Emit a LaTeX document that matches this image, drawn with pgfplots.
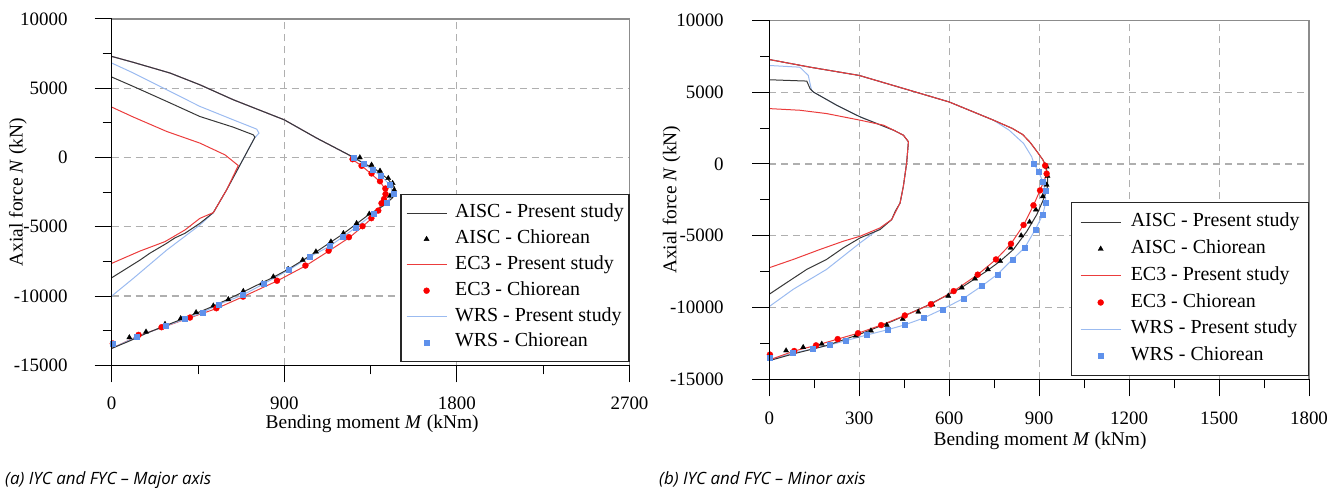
\documentclass[border=0pt]{standalone}
\usepackage{pgfplots}
\pgfplotsset{compat=1.18}
\usepackage{fontspec}
\setmainfont{Liberation Serif}
\newfontfamily\capfont{Open Sans}
\definecolor{cblack}{RGB}{55,55,55}
\definecolor{cred}{RGB}{235,60,60}
\definecolor{cblue}{RGB}{155,187,240}
\definecolor{dred}{RGB}{250,0,0}
\definecolor{dblue}{RGB}{95,145,235}
\definecolor{gridc}{RGB}{175,175,175}
\definecolor{framec}{RGB}{140,140,140}
\newcommand{\labfont}{\rmfamily\upshape\fontsize{19.5}{20}\selectfont}
\pgfplotsset{
 aiscline/.style={cblack, line width=1bp, no markers},
 ec3line/.style={cred, line width=1bp, no markers},
 wrsline/.style={cblue, line width=1bp, no markers},
 aiscmark/.style={only marks, mark=triangle*, mark size=3bp, mark options={black, fill=black, line width=0.3bp}},
 ec3mark/.style={only marks, mark=*, mark size=3bp, mark options={dred, fill=dred, line width=0.3bp}},
 wrsmark/.style={only marks, mark=square*, mark size=2.5bp, mark options={dblue, fill=dblue, line width=0.3bp}},
 nfig/.style={
  scale only axis,
  axis line style={draw=none},
  scaled x ticks=false, scaled y ticks=false,
  tick align=outside,
  xtick pos=bottom, ytick pos=left,
  major tick length=17bp, minor tick length=9bp,
  tick style={black, line width=1bp},
  grid=major,
  major grid style={gridc, line width=1.1bp, dash pattern=on 7bp off 5bp},
  ymin=-15000, ymax=10000,
  ytick={-15000,-10000,-5000,0,5000,10000},
  yticklabels={-15000,-10000,-5000,0,5000,10000},
  minor ytick={-12500,-7500,-2500,2500,7500},
  tick label style={font=\rmfamily\fontsize{19}{19}\selectfont},
  xticklabel style={inner sep=0pt, anchor=center},
  yticklabel style={inner sep=0pt, anchor=east},
  ylabel={Axial force \textit{N} (kN)},
  xlabel={Bending moment \textit{M} (kNm)},
  every axis y label/.style={at={(axis description cs:-0.181,0.5)}, rotate=90, anchor=center, font=\labfont},
  legend cell align=left,
  legend image code/.code={\draw[mark repeat=2,mark phase=2,##1] plot coordinates {(0bp,0bp) (20bp,0bp) (40bp,0bp)};},
  after end axis/.code={
    \draw[framec, line width=1.3bp] (rel axis cs:0,1) -- (rel axis cs:1,1) -- (rel axis cs:1,0);
    \draw[black, line width=1.2bp] (rel axis cs:0,1) -- (rel axis cs:0,0) -- (rel axis cs:1,0);
  },
 }
}
\begin{document}
\begin{tikzpicture}
\useasboundingbox (0,0) rectangle (1343bp,489bp);
% ================= (a) Major axis =================
\begin{axis}[nfig,
  at={(111.7bp,123.7bp)}, anchor=south west,
  width=517.8bp, height=346.3bp,
  xmin=0, xmax=2700,
  xtick={0,900,1800,2700}, xticklabels={0,900,1800,2700},
  minor xtick={450,1350,2250},
  every x tick label/.append style={yshift=-20.9bp},
  yticklabel style={xshift=-27bp},
  every axis x label/.style={at={(axis description cs:0.503,-0.1695)}, anchor=center, font=\labfont},
  legend style={at={(1,0.4955)}, anchor=north east, draw=black!85, line width=1.2bp, fill=white,
    font=\rmfamily\fontsize{20}{20}\selectfont, inner xsep=5bp, inner ysep=9.5bp, row sep=6.8bp,
    nodes={inner sep=0pt, text height=14bp, text depth=5bp},
    /tikz/every odd column/.append style={column sep=8bp}},
]
\addlegendimage{aiscline}\addlegendentry{AISC - Present study}
\addlegendimage{aiscmark}\addlegendentry{AISC - Chiorean}
\addlegendimage{ec3line}\addlegendentry{EC3 - Present study}
\addlegendimage{ec3mark}\addlegendentry{EC3 - Chiorean}
\addlegendimage{wrsline}\addlegendentry{WRS - Present study}
\addlegendimage{wrsmark}\addlegendentry{WRS - Chiorean}
% outer curves
\addplot[ec3line, forget plot] coordinates {(0,7300) (113,6870) (304,6100) (460,5250) (634,4170) (900,2720) (1069,1400) (1242,150) (1251,-100) (1303,-600) (1355,-1200) (1399,-1750) (1425,-2250) (1432,-2600) (1425,-2950) (1407,-3300) (1390,-3850) (1355,-4400) (1307,-5000) (1239,-5780) (1131,-6760) (1011,-7820) (864,-8900) (683,-10060) (547,-10900) (405,-11580) (261,-12280) (144,-12840) (0,-13780)};
\addplot[wrsline, forget plot] coordinates {(0,7300) (113,6870) (304,6100) (460,5250) (634,4170) (900,2720) (1069,1400) (1242,150) (1260,0) (1315,-460) (1360,-890) (1404,-1330) (1451,-1980) (1468,-2630) (1433,-3250) (1364,-4070) (1274,-5040) (1138,-6390) (1034,-7160) (924,-8120) (791,-9130) (683,-9930) (556,-10610) (474,-11190) (382,-11670) (283,-12150) (130,-12950) (0,-13780)};
\addplot[aiscline, forget plot] coordinates {(0,7300) (113,6870) (304,6100) (460,5250) (634,4170) (900,2720) (1069,1400) (1242,150) (1300,-300) (1380,-900) (1440,-1550) (1475,-2150) (1480,-2500) (1465,-2900) (1420,-3450) (1343,-4100) (1277,-4780) (1208,-5500) (1143,-6100) (1065,-6820) (996,-7420) (920,-8070) (843,-8640) (686,-9700) (530,-10730) (440,-11250) (360,-11700) (278,-12150) (179,-12700) (92,-13250) (0,-13780)};
% inner curves
\addplot[wrsline, forget plot] coordinates {(0,6820) (113,6100) (287,4890) (460,3690) (634,2720) (756,2050) (768,1760) (744,1400) (690,0) (599,-2340) (530,-3977) (460,-4870) (287,-6680) (113,-8720) (0,-10000)};
\addplot[aiscline, forget plot] coordinates {(0,5810) (113,5130) (287,4050) (460,2960) (634,2190) (738,1640) (747,1470) (690,0) (599,-2340) (530,-3977) (460,-4750) (382,-5470) (330,-5800) (287,-6190) (200,-6900) (148,-7400) (0,-8680)};
\addplot[ec3line, forget plot] coordinates {(0,3640) (113,2920) (287,1880) (460,1040) (591,190) (660,-580) (599,-2340) (530,-3977) (460,-4390) (382,-5230) (278,-6070) (148,-6750) (0,-7640)};
% Chiorean points
\addplot[aiscmark, forget plot] coordinates {(1294,0) (1355,-530) (1399,-964) (1442,-1494) (1465,-1856) (1473,-2338) (1451,-2772) (1410,-3250) (1343,-4073) (1277,-4748) (1208,-5471) (1143,-6073) (1065,-6796) (996,-7399) (920,-8053) (843,-8604) (785,-9086) (686,-9650) (608,-10243) (530,-10700) (440,-11182) (360,-11616) (278,-12026) (179,-12580) (92,-12990)};
\addplot[ec3mark, forget plot] coordinates {(1256,-120) (1303,-600) (1355,-1150) (1399,-1710) (1427,-2240) (1428,-2640) (1420,-3000) (1407,-3300) (1390,-3830) (1354,-4380) (1308,-4960) (1237,-5750) (1131,-6730) (1010,-7800) (862,-8895) (685,-10040) (546,-10880) (408,-11555) (260,-12250) (140,-12805) (6,-13430)};
\addplot[wrsmark, forget plot] coordinates {(1260,0) (1315,-458) (1360,-892) (1404,-1326) (1451,-1976) (1468,-2627) (1433,-3253) (1364,-4073) (1274,-5037) (1205,-5720) (1138,-6387) (1034,-7180) (924,-8122) (791,-9134) (683,-9929) (556,-10604) (474,-11182) (382,-11664) (283,-12146) (130,-12942) (5,-13472)};
\end{axis}
% ================= (b) Minor axis =================
\begin{axis}[nfig,
  at={(769.3bp,109.7bp)}, anchor=south west,
  width=539.7bp, height=358.9bp,
  xmin=0, xmax=1800,
  xtick={0,300,600,900,1200,1500,1800}, xticklabels={0,300,600,900,1200,1500,1800},
  minor xtick={150,450,750,1050,1350,1650},
  every x tick label/.append style={yshift=-22.3bp},
  yticklabel style={xshift=-28.4bp},
  every axis x label/.style={at={(axis description cs:0.5016,-0.171)}, anchor=center, font=\labfont},
  legend style={at={(1,0.494)}, anchor=north east, draw=black!85, line width=1.2bp, fill=white,
    font=\rmfamily\fontsize{20}{20}\selectfont, inner xsep=8.8bp, inner ysep=10bp, row sep=7.8bp,
    nodes={inner sep=0pt, text height=14bp, text depth=5bp},
    /tikz/every odd column/.append style={column sep=9.6bp}},
]
\addlegendimage{aiscline}\addlegendentry{AISC - Present study}
\addlegendimage{aiscmark}\addlegendentry{AISC - Chiorean}
\addlegendimage{ec3line}\addlegendentry{EC3 - Present study}
\addlegendimage{ec3mark}\addlegendentry{EC3 - Chiorean}
\addlegendimage{wrsline}\addlegendentry{WRS - Present study}
\addlegendimage{wrsmark}\addlegendentry{WRS - Chiorean}
% outer curves
\addplot[wrsline, forget plot] coordinates {(0,7274) (136,6742) (300,6165) (469,5126) (600,4318) (748,3048) (800,2350) (848,1430) (875,510) (883,0) (898,-531) (912,-1224) (920,-1847) (922,-2678) (912,-3533) (887,-4572) (853,-5796) (811,-6650) (761,-7689) (709,-8497) (647,-9375) (578,-10114) (514,-10737) (453,-11199) (395,-11545) (325,-11915) (256,-12307) (202,-12607) (145,-12884) (78,-13180) (0,-13650)};
\addplot[aiscline, forget plot] coordinates {(0,7274) (136,6742) (300,6165) (469,5126) (600,4318) (748,3048) (810,2480) (845,2050) (870,1500) (895,800) (912,300) (920,0) (928,-650) (928,-1570) (914,-2490) (892,-3530) (859,-4690) (814,-5960) (770,-6770) (725,-7460) (636,-8680) (525,-9880) (414,-10920) (303,-11850) (191,-12650) (80,-13230) (0,-13700)};
\addplot[ec3line, forget plot] coordinates {(0,7274) (136,6742) (300,6165) (469,5126) (600,4318) (748,3048) (810,2480) (845,2050) (870,1500) (895,800) (912,300) (920,-120) (926,-680) (903,-1840) (881,-2880) (848,-4250) (806,-5560) (756,-6650) (695,-7710) (615,-8855) (539,-9770) (452,-10555) (373,-11225) (296,-11790) (228,-12200) (156,-12635) (83,-13030) (0,-13650)};
% inner curves
\addplot[wrsline, forget plot] coordinates {(0,6860) (102,6740) (130,6165) (141,5126) (147,5010) (225,4087) (303,3279) (414,2355) (447,2009) (464,1547) (458,50) (447,-1570) (436,-2725) (408,-3879) (303,-5495) (191,-7343) (80,-8728) (0,-9929)};
\addplot[aiscline, forget plot] coordinates {(0,5865) (125,5773) (136,5240) (147,5010) (225,4087) (303,3279) (414,2355) (447,2009) (464,1547) (458,50) (447,-1570) (436,-2725) (420,-3300) (408,-3879) (369,-4572) (303,-5149) (247,-5842) (191,-6650) (125,-7343) (58,-8266) (0,-9074)};
\addplot[ec3line, forget plot] coordinates {(0,3856) (102,3741) (191,3510) (303,3048) (381,2700) (414,2355) (447,2009) (464,1547) (458,50) (447,-1570) (436,-2725) (408,-3879) (369,-4456) (303,-5034) (247,-5380) (169,-5957) (80,-6650) (0,-7227)};
% Chiorean points
\addplot[aiscmark, forget plot] coordinates {(925,-185) (928,-831) (925,-1455) (912,-2263) (889,-3186) (868,-4041) (840,-4987) (805,-5842) (770,-6766) (729,-7343) (686,-7989) (642,-8613) (597,-9190) (544,-9800) (497,-10298) (445,-10806) (392,-11222) (339,-11614) (289,-11961) (175,-12538) (113,-12769) (56,-13000)};
\addplot[ec3mark, forget plot] coordinates {(920,-115) (925,-680) (903,-1840) (881,-2880) (848,-4250) (806,-5560) (756,-6650) (695,-7710) (615,-8855) (539,-9770) (452,-10555) (373,-11225) (296,-11790) (228,-12200) (156,-12635) (83,-13030) (2,-13280)};
\addplot[wrsmark, forget plot] coordinates {(883,0) (898,-531) (912,-1224) (920,-1847) (922,-2678) (912,-3533) (887,-4572) (853,-5796) (811,-6650) (761,-7689) (709,-8497) (647,-9375) (578,-10114) (514,-10737) (453,-11199) (395,-11545) (325,-11915) (256,-12307) (202,-12607) (145,-12884) (78,-13115) (0,-13461)};
\end{axis}
\node[anchor=base west, inner sep=0pt, font=\capfont\itshape\fontsize{17}{18}\selectfont] at (5bp,5bp) {(a) IYC and FYC – Major axis};
\node[anchor=base west, inner sep=0pt, font=\capfont\itshape\fontsize{17}{18}\selectfont] at (659bp,5bp) {(b) IYC and FYC – Minor axis};
\end{tikzpicture}
\end{document}
